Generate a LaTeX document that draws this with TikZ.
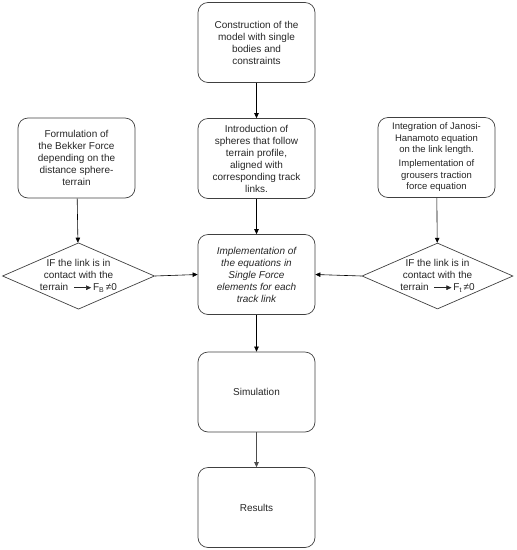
\documentclass[tikz,border=0pt]{standalone}
\usepackage{fontspec}
\setmainfont{Liberation Sans}
\usetikzlibrary{shapes.geometric,arrows.meta}
\newcommand{\smallarrow}{\tikz[baseline=-0.6ex]\draw[line width=0.5pt,-{Triangle[length=5pt,width=4.5pt]}] (0,0) -- (17pt,0);}
\begin{document}
\begin{tikzpicture}[x=1pt,y=-1pt,
  every node/.style={font=\fontsize{10}{12}\selectfont, text=black!85},
  stepbox/.style={draw=black!75, line width=0.7pt, rounded corners=10pt, minimum width=117pt, minimum height=80pt, align=center, inner sep=0pt},
  decision/.style={draw=black!75, line width=0.7pt, diamond, minimum width=151pt, minimum height=66pt, align=center, inner sep=0pt, aspect=2.29},
  conn/.style={draw=black, line width=0.6pt, -{Triangle[length=5pt,width=4.5pt]}}]
\useasboundingbox (0,0) rectangle (517,550);
\node[stepbox] (top) at (256.5,42.5) {Construction of the\\model with single\\bodies and\\constraints};
\node[stepbox] (intro) at (256.5,158.5) {Introduction of\\spheres that follow\\terrain profile,\\aligned with\\corresponding track\\links.};
\node[stepbox, font=\fontsize{10}{12}\selectfont\itshape] (impl) at (256.5,274.5) {Implementation of\\the equations in\\Single Force\\elements for each\\track link};
\node[stepbox] (sim) at (256.5,392) {Simulation};
\node[stepbox] (res) at (256.5,507.5) {Results};
\node[stepbox] (bek) at (76.5,158) {Formulation of\\the Bekker Force\\depending on the\\distance sphere-\\terrain};
\node[stepbox, font=\fontsize{9.5}{11.5}\selectfont] (jan) at (436.5,157.5) {Integration of Janosi-\\Hanamoto equation\\on the link length.\\[2.5pt]Implementation of\\grousers traction\\force equation};
\node[decision] (dl) at (78.5,276) {IF the link is in\\contact with the\\terrain~~\smallarrow\,F\textsubscript{B}\,≠0};
\node[decision] (dr) at (437.5,276) {IF the link is in\\contact with the\\terrain~~\smallarrow\,F\textsubscript{t}\,≠0};
\draw[conn] (top) -- (intro);
\draw[conn] (intro) -- (impl);
\draw[conn] (impl) -- (sim);
\draw[conn, draw=black!70] (sim) -- (res);
\draw[conn] (bek) -- (dl);
\draw[conn] (jan) -- (dr);
\draw[conn] (dl.east) -- (impl.west);
\draw[conn] (dr.west) -- (impl.east);
\end{tikzpicture}
\end{document}
